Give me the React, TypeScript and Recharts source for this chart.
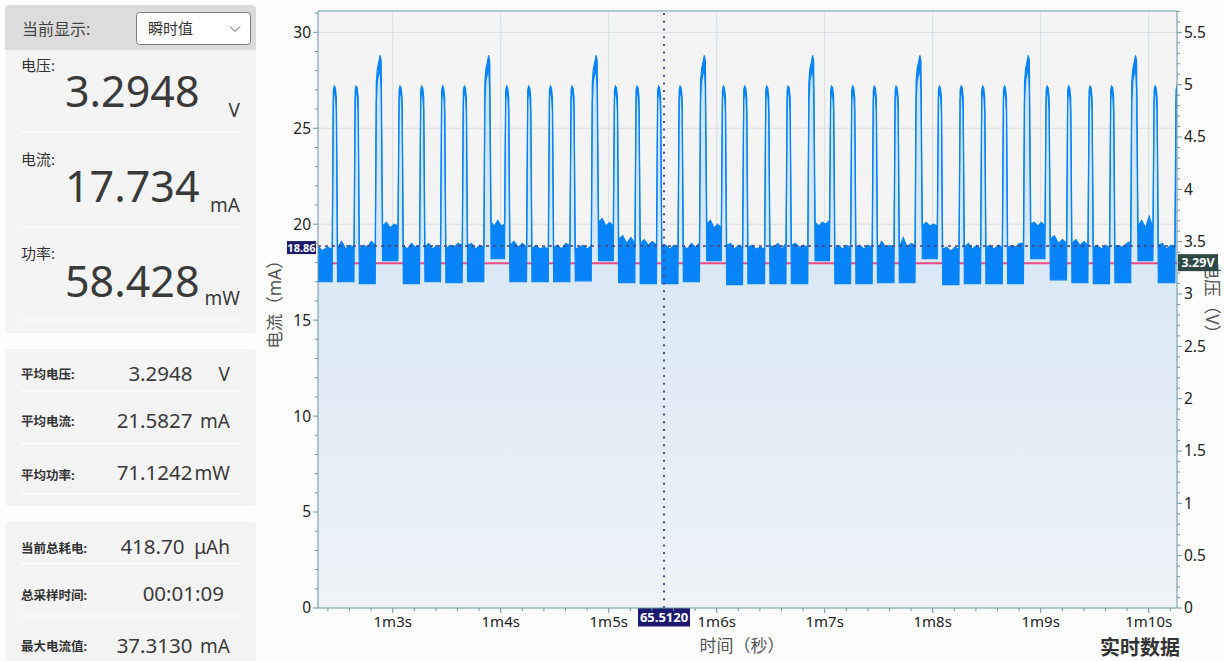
import { Area, CartesianGrid, ComposedChart, ReferenceLine, XAxis, YAxis } from 'recharts'

const FONT = "'Noto Sans', 'Noto Sans CJK SC', sans-serif"
const AXIS = '#6a95a3'
const BLUE = '#0784f7'

// visible window (seconds) and axis tops
const X_MIN = 62.308
const X_MAX = 70.262
const I_MAX = 31.11
const V_MAX = 5.704

const xMajorTicks = [63, 64, 65, 66, 67, 68, 69, 70]
const xTickLabels = ['1m3s', '1m4s', '1m5s', '1m6s', '1m7s', '1m8s', '1m9s', '1m10s']
const yMajorTicks = [0, 5, 10, 15, 20, 25, 30]
const yTickLabels = ['0', '5', '10', '15', '20', '25', '30']
const vMajorTicks = [0, 0.5, 1, 1.5, 2, 2.5, 3, 3.5, 4, 4.5, 5, 5.5]
const vTickLabels = ['0', '0.5', '1', '1.5', '2', '2.5', '3', '3.5', '4', '4.5', '5', '5.5']

// minor tick positions
const xTicks = Array.from({ length: 40 }, (_, i) => (312 + i) / 5)
const yTicks = Array.from({ length: 32 }, (_, i) => i)
const vTicks = Array.from({ length: 58 }, (_, i) => i / 10)

// current waveform
const pulseTimes = [
  62.465, 62.667, 63.074, 63.274, 63.468, 63.669, 64.061, 64.265, 64.466, 64.666,
  65.068, 65.268, 65.468, 65.667, 66.068, 66.265, 66.469, 66.667, 67.07, 67.265,
  67.465, 67.667, 68.068, 68.269, 68.469, 68.67, 69.065, 69.265, 69.463, 69.663,
  70.065, 70.268,
]
const burstTimes = [62.88, 63.885, 64.88, 65.882, 66.885, 67.878, 68.882, 69.875]

// [dt, low, high] around a pulse peak
const pulseSpan = [-0.026, 0.024]
const pulseShape = [
  [-0.015, 26.5, 27.0],
  [-0.006, 26.9, 27.2],
  [0.004, 26.7, 27.1],
  [0.013, 25.9, 26.6],
]
const burstSpan = [-0.042, 0.026]
const burstShape = [
  [-0.032, 26.4, 27.4],
  [-0.022, 27.5, 28.1],
  [-0.01, 27.8, 28.4],
  [0.003, 28.2, 28.8],
  [0.013, 27.0, 28.5],
]

// noise band between pulses: low edge and ragged top edge
const bandLow = [
  17.0, 17.0, 16.9, 18.1, 16.9, 17.0, 16.95, 17.0, 18.2, 17.0, 17.0, 17.0, 17.05, 18.1,
  16.95, 16.9, 16.9, 17.0, 18.1, 16.85, 16.9, 16.9, 16.9, 18.1, 16.9, 16.9, 16.95, 16.95,
  18.2, 16.85, 16.9, 16.9, 16.9, 18.2, 17.1, 16.95, 16.9, 16.95, 18.1, 16.95, 17.0,
]
const bandHigh = [
  [18.7, 18.9, 18.6, 18.8, 18.7], [18.8, 19.1, 18.7, 18.9, 18.8], [18.7, 18.9, 18.8, 19.1, 18.9],
  [19.9, 20.1, 19.8, 20.0, 19.9], [18.9, 18.7, 19.0, 18.8, 18.9], [18.8, 19.0, 18.7, 18.9, 18.7],
  [18.7, 18.9, 18.8, 19.0, 18.9], [18.9, 19.0, 18.7, 18.9, 18.8], [20.1, 19.9, 20.2, 19.9, 20.0],
  [18.9, 19.1, 18.8, 19.0, 18.8], [18.7, 18.9, 18.7, 18.8, 18.7], [18.8, 18.9, 18.7, 19.0, 18.9],
  [18.7, 18.8, 18.9, 18.7, 18.9], [20.1, 20.3, 19.9, 20.1, 19.9], [19.2, 19.4, 19.0, 19.3, 19.0],
  [19.0, 19.2, 18.9, 19.1, 18.9], [18.8, 18.9, 18.7, 18.9, 18.8], [18.9, 18.7, 19.0, 18.8, 19.0],
  [20.0, 20.2, 19.8, 20.0, 19.8], [18.9, 19.0, 18.7, 18.9, 18.8], [18.8, 18.9, 18.7, 18.8, 18.7],
  [18.9, 18.8, 19.0, 18.7, 19.0], [18.9, 19.0, 18.8, 18.9, 18.8], [20.1, 19.9, 20.1, 20.0, 20.2],
  [18.7, 18.9, 18.7, 18.9, 18.8], [18.8, 18.9, 18.7, 18.9, 18.8], [18.7, 19.1, 18.8, 18.9, 18.8],
  [18.8, 19.3, 18.8, 19.0, 18.9], [19.9, 20.1, 19.9, 20.0, 19.9], [18.7, 18.8, 18.6, 18.8, 18.7],
  [18.8, 19.0, 18.7, 18.9, 18.7], [18.8, 18.9, 18.7, 18.9, 18.8], [18.8, 18.9, 18.8, 19.0, 19.0],
  [20.0, 20.1, 19.9, 20.1, 19.9], [19.2, 19.4, 19.0, 19.2, 19.0], [19.0, 19.2, 18.9, 19.1, 18.9],
  [18.8, 18.9, 18.7, 18.9, 18.8], [18.8, 18.9, 18.8, 19.0, 19.1], [19.9, 20.2, 19.8, 20.4, 19.8],
  [18.9, 19.0, 18.7, 18.9, 18.8], [18.8, 18.9, 18.7, 18.8, 18.8],
]

const voltageNow = 3.2948
const avgCurrentMark = 18.86
const cursorTime = 65.512

type Pt = { t: number; lo: number; hi: number; v: number }

const events = [
  ...pulseTimes.map((t) => ({ t, span: pulseSpan, shape: pulseShape })),
  ...burstTimes.map((t) => ({ t, span: burstSpan, shape: burstShape })),
].sort((a, b) => a.t - b.t)

const points: Pt[] = []
const addBand = (k: number, ta: number, tb: number) => {
  const tops = bandHigh[k]
  const lo = bandLow[k]
  tops.forEach((hi, j) => {
    points.push({ t: ta + ((tb - ta) * j) / (tops.length - 1), lo, hi, v: voltageNow })
  })
}
let from = X_MIN - 0.05
events.forEach((ev, k) => {
  addBand(k, from, ev.t + ev.span[0])
  ev.shape.forEach(([dt, lo, hi]) => points.push({ t: ev.t + dt, lo, hi, v: voltageNow }))
  from = ev.t + ev.span[1]
})
addBand(events.length, from, X_MAX + 0.05)

function TimeTick({ x, y, payload }: any) {
  const idx = xMajorTicks.indexOf(payload.value)
  return (
    <g>
      <line x1={x} x2={x} y1={y} y2={y + (idx >= 0 ? 5 : 3)} stroke={AXIS} />
      {idx >= 0 && (
        <text x={x} y={y + 18.5} textAnchor="middle" fontSize={15} fill="#222" fontFamily={FONT}>
          {xTickLabels[idx]}
        </text>
      )}
    </g>
  )
}

function CurrentTick({ x, y, payload }: any) {
  const idx = yMajorTicks.indexOf(payload.value)
  return (
    <g>
      <line x1={x - (idx >= 0 ? 5 : 3)} x2={x} y1={y} y2={y} stroke={AXIS} />
      {idx >= 0 && (
        <text x={x - 7} y={y} dy="0.35em" textAnchor="end" fontSize={15.5} fill="#222" fontFamily={FONT}>
          {yTickLabels[idx]}
        </text>
      )}
    </g>
  )
}

function VoltTick({ x, y, payload }: any) {
  const idx = vMajorTicks.indexOf(payload.value)
  return (
    <g>
      <line x1={x} x2={x + (idx >= 0 ? 5 : 3)} y1={y} y2={y} stroke={AXIS} />
      {idx >= 0 && (
        <text x={x + 7} y={y} dy="0.35em" textAnchor="start" fontSize={15.5} fill="#222" fontFamily={FONT}>
          {vTickLabels[idx]}
        </text>
      )}
    </g>
  )
}

function Tag({ x, y, w, h, text, fill, size = 11 }: any) {
  return (
    <g>
      <rect x={x} y={y} width={w} height={h} fill={fill} />
      <text x={x + w / 2} y={y + h / 2} dy="0.36em" textAnchor="middle" fontSize={size} fontWeight={700} fill="#fff" fontFamily={FONT}>
        {text}
      </text>
    </g>
  )
}

function Panels() {
  const label = { fontFamily: FONT, fill: '#333' }
  const num = { fontFamily: FONT, fill: '#3a3a3a' }
  const sep = (y: number) => <line x1={21} x2={240} y1={y} y2={y} stroke="#fdfdfd" strokeWidth={1.5} />
  return (
    <svg width={1224} height={661} style={{ position: 'absolute', left: 0, top: 0 }}>
      <rect x={0} y={0} width={1224} height={661} fill="#fdfdfd" />
      <rect x={5} y={5} width={251} height={328} rx={4} fill="#f4f4f4" />
      <rect x={5} y={5} width={251} height={45} rx={4} fill="#dcdcdc" />
      <rect x={5} y={40} width={251} height={10} fill="#dcdcdc" />
      <text x={22} y={34.5} fontSize={16} {...label} fill="#444">当前显示:</text>
      <rect x={136.5} y={12.5} width={114} height={32} rx={3} fill="#fff" stroke="#7d7d7d" />
      <text x={148} y={33.5} fontSize={15} {...label}>瞬时值</text>
      <polyline points="230,26.5 235,31.5 240,26.5" fill="none" stroke="#555" strokeWidth={1} />

      <text x={21} y={71} fontSize={15} {...label}>电压:</text>
      <text x={65} y={107} fontSize={43} {...num}>3.2948</text>
      <text x={240} y={116.5} fontSize={19} textAnchor="end" {...num}>V</text>
      {sep(132)}
      <text x={21} y={165} fontSize={15} {...label}>电流:</text>
      <text x={65} y={201.5} fontSize={43} {...num}>17.734</text>
      <text x={240} y={211.5} fontSize={19} textAnchor="end" {...num}>mA</text>
      {sep(227)}
      <text x={21} y={259} fontSize={15} {...label}>功率:</text>
      <text x={65} y={296.5} fontSize={43} {...num}>58.428</text>
      <text x={240} y={305} fontSize={19} textAnchor="end" {...num}>mW</text>
      {sep(320)}

      <rect x={5} y={349} width={251} height={157} rx={4} fill="#f4f4f4" />
      <text x={21} y={378.5} fontSize={12.5} fontWeight={700} {...label}>平均电压:</text>
      <text x={192.5} y={380.5} fontSize={20.5} textAnchor="end" {...num}>3.2948</text>
      <text x={230} y={380.5} fontSize={19} textAnchor="end" {...num}>V</text>
      {sep(391)}
      <text x={21} y={426} fontSize={12.5} fontWeight={700} {...label}>平均电流:</text>
      <text x={192.5} y={428} fontSize={20.5} textAnchor="end" {...num}>21.5827</text>
      <text x={230} y={428} fontSize={19} textAnchor="end" {...num}>mA</text>
      {sep(443.5)}
      <text x={21} y={479.5} fontSize={12.5} fontWeight={700} {...label}>平均功率:</text>
      <text x={192.5} y={480} fontSize={20.5} textAnchor="end" {...num}>71.1242</text>
      <text x={230} y={480} fontSize={19} textAnchor="end" {...num}>mW</text>
      {sep(493.5)}

      <rect x={5} y={522} width={251} height={160} rx={4} fill="#f4f4f4" />
      <text x={21} y={553} fontSize={12.5} fontWeight={700} {...label}>当前总耗电:</text>
      <text x={184.5} y={554} fontSize={20.5} textAnchor="end" {...num}>418.70</text>
      <text x={230} y={554} fontSize={19} textAnchor="end" {...num}>μAh</text>
      {sep(563.5)}
      <text x={21} y={599.5} fontSize={12.5} fontWeight={700} {...label}>总采样时间:</text>
      <text x={224} y={600.5} fontSize={20.5} textAnchor="end" {...num}>00:01:09</text>
      {sep(616)}
      <text x={21} y={651} fontSize={12.5} fontWeight={700} {...label}>最大电流值:</text>
      <text x={192.5} y={653} fontSize={20.5} textAnchor="end" {...num}>37.3130</text>
      <text x={230} y={653} fontSize={19} textAnchor="end" {...num}>mA</text>

      <text x={274} y={300} fontSize={17.5} textAnchor="middle" dominantBaseline="central" fill="#555" fontFamily={FONT} transform="rotate(-90 274 300)">
        电流（mA）
      </text>
      <text x={1213} y={302} fontSize={17.5} textAnchor="middle" dominantBaseline="central" fill="#555" fontFamily={FONT} transform="rotate(90 1213 302)">
        电压（V）
      </text>
      <text x={742} y={652} fontSize={17} textAnchor="middle" fill="#555" fontFamily={FONT}>时间（秒）</text>
      <text x={1180} y={655} fontSize={20} fontWeight={700} textAnchor="end" fill="#333" fontFamily={FONT}>实时数据</text>
    </svg>
  )
}

export default function App() {
  return (
    <div style={{ position: 'absolute', left: 0, top: 0, width: 1224, height: 661, fontFamily: FONT }}>
      <Panels />
      <div style={{ position: 'absolute', left: 260, top: 0 }}>
        <ComposedChart width={964} height={661} data={points} margin={{ top: 11, right: 0, bottom: 0, left: 0 }}>
          <defs>
            <linearGradient id="curFill" x1="0" y1="0" x2="0" y2="1">
              <stop offset="0%" stopColor="#cde2f5" />
              <stop offset="100%" stopColor="#eff3f7" />
            </linearGradient>
          </defs>
          <CartesianGrid
            yAxisId="i"
            fill="#f4f4f4"
            stroke="#dadfe3"
            horizontalValues={yMajorTicks.slice(1)}
            verticalValues={xMajorTicks}
          />
          <XAxis
            dataKey="t"
            type="number"
            domain={[X_MIN, X_MAX]}
            allowDataOverflow
            ticks={xTicks}
            interval={0}
            tickSize={0}
            tickMargin={0}
            tickLine={false}
            tick={<TimeTick />}
            axisLine={{ stroke: AXIS }}
            height={53}
          />
          <YAxis
            yAxisId="i"
            type="number"
            domain={[0, I_MAX]}
            allowDataOverflow
            ticks={yTicks}
            interval={0}
            tickSize={0}
            tickMargin={0}
            tickLine={false}
            tick={<CurrentTick />}
            axisLine={{ stroke: AXIS }}
            width={58}
          />
          <YAxis
            yAxisId="v"
            orientation="right"
            type="number"
            domain={[0, V_MAX]}
            allowDataOverflow
            ticks={vTicks}
            interval={0}
            tickSize={0}
            tickMargin={0}
            tickLine={false}
            tick={<VoltTick />}
            axisLine={{ stroke: AXIS }}
            width={47}
          />
          <Area
            yAxisId="i"
            dataKey="hi"
            type="linear"
            stroke="none"
            fill="url(#curFill)"
            fillOpacity={1}
            baseValue={0}
            dot={false}
            activeDot={false}
            isAnimationActive={false}
          />
          <Area
            yAxisId="v"
            dataKey="v"
            type="linear"
            stroke="#ee4a85"
            strokeWidth={2}
            fill="none"
            dot={false}
            activeDot={false}
            isAnimationActive={false}
          />
          <Area
            yAxisId="i"
            dataKey={(d: Pt) => [d.lo, d.hi]}
            type="linear"
            stroke={BLUE}
            strokeWidth={1.2}
            fill={BLUE}
            fillOpacity={1}
            dot={false}
            activeDot={false}
            isAnimationActive={false}
          />
          <ReferenceLine
            yAxisId="i"
            y={avgCurrentMark}
            stroke="#4a3f6e"
            strokeWidth={1.5}
            strokeDasharray="3 4"
            label={(p: any) => <Tag x={p.viewBox.x - 31} y={p.viewBox.y - 5} w={29} h={13} text="18.86" fill="#1c1b6b" />}
          />
          <ReferenceLine
            yAxisId="v"
            y={voltageNow}
            stroke="none"
            label={(p: any) => (
              <Tag x={p.viewBox.x + p.viewBox.width + 1} y={p.viewBox.y - 9} w={40} h={17} text="3.29V" fill="#2f4a45" size={12.5} />
            )}
          />
          <ReferenceLine
            yAxisId="i"
            x={cursorTime}
            stroke="#4b4b8f"
            strokeWidth={2}
            strokeDasharray="2 5.7"
            label={(p: any) => (
              <Tag x={p.viewBox.x - 26} y={p.viewBox.y + p.viewBox.height} w={52} h={18.5} text="65.5120" fill="#1b1a6e" size={13} />
            )}
          />
          <ReferenceLine yAxisId="i" y={I_MAX} stroke={AXIS} />
        </ComposedChart>
      </div>
    </div>
  )
}
